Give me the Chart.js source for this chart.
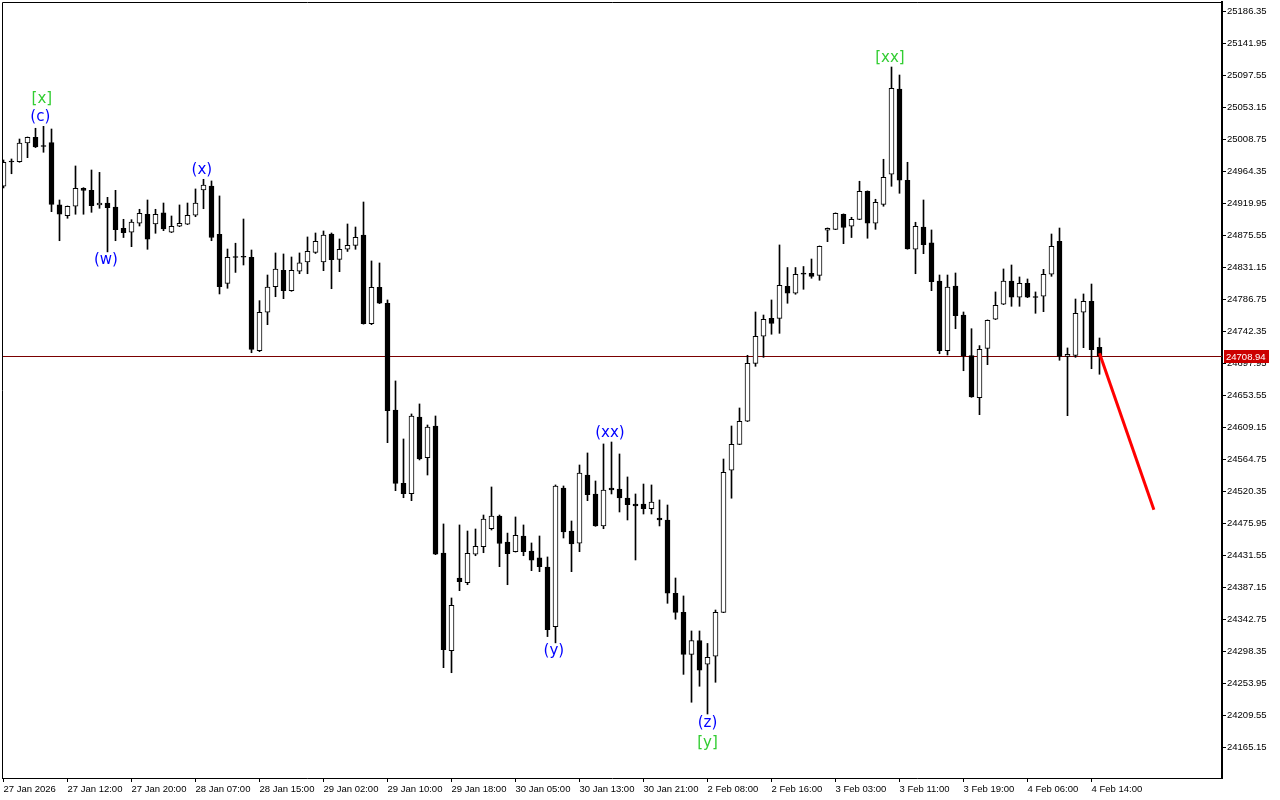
<!DOCTYPE html>
<html>
<head>
<meta charset="utf-8">
<title>Candles</title>
<script src="https://cdn.jsdelivr.net/npm/chart.js@4.4.1/dist/chart.umd.min.js"></script>
<style>
  html, body { margin: 0; padding: 0; background: #fff; }
  #wrap { width: 1280px; height: 800px; position: relative; }
</style>
</head>
<body>
<div id="wrap"><canvas id="chart"></canvas></div>
<script>
// hourly bars, 27 Jan 2026 00:00 .. 4 Feb 15:00
const opens = [
  24943.8, 24978.5, 24977.9, 25003.9, 25011.8, 24999.7, 25004.3, 24917.9, 24903.0, 24916.1,
  24941.0, 24938.2, 24917.9, 24920.6, 24915.1, 24885.5, 24880.0, 24892.5, 24905.0, 24891.5,
  24906.8, 24880.0, 24888.3, 24891.1, 24903.6, 24938.7, 24944.2, 24877.2, 24809.2, 24845.3,
  24845.3, 24845.3, 24715.7, 24769.0, 24804.5, 24827.3, 24799.0, 24825.9, 24839.0, 24852.0,
  24839.0, 24877.6, 24842.5, 24856.4, 24861.9, 24876.2, 24753.2, 24803.7, 24781.5, 24633.4,
  24531.7, 24517.3, 24623.7, 24567.2, 24611.2, 24435.0, 24299.5, 24400.3, 24393.8, 24433.2,
  24443.7, 24468.7, 24486.3, 24450.1, 24436.8, 24458.6, 24437.8, 24428.3, 24415.6, 24332.8,
  24525.2, 24465.5, 24448.8, 24543.2, 24516.9, 24472.5, 24525.2, 24523.8, 24511.3, 24503.0,
  24503.0, 24496.5, 24483.6, 24480.8, 24379.1, 24352.7, 24294.3, 24313.6, 24280.6, 24291.7,
  24352.7, 24549.8, 24585.8, 24617.8, 24698.2, 24735.7, 24760.6, 24760.6, 24805.1, 24795.4,
  24823.5, 24823.1, 24820.3, 24882.8, 24884.1, 24905.0, 24888.3, 24898.0, 24936.9, 24892.5,
  24918.8, 24960.5, 25078.8, 24952.2, 24856.4, 24887.3, 24865.2, 24812.4, 24715.7, 24805.5,
  24765.2, 24708.8, 24650.5, 24719.0, 24759.3, 24780.1, 24812.4, 24789.8, 24809.2, 24790.2,
  24791.2, 24821.7, 24867.5, 24707.9, 24709.3, 24769.0, 24784.3, 24720.4
];
const highs = [
  24980.3, 24981.7, 25009.4, 25012.2, 25024.3, 25027.0, 25023.3, 24924.8, 24916.5, 24972.0,
  24941.9, 24966.4, 24963.1, 24928.5, 24938.2, 24898.0, 24897.5, 24911.9, 24924.8, 24911.9,
  24920.6, 24902.6, 24917.9, 24920.6, 24940.1, 24953.5, 24951.2, 24930.4, 24856.8, 24864.8,
  24898.4, 24855.4, 24785.1, 24820.7, 24851.3, 24849.9, 24845.7, 24851.3, 24873.5, 24879.0,
  24881.8, 24879.0, 24870.7, 24891.5, 24887.3, 24922.0, 24840.2, 24837.4, 24786.1, 24673.7,
  24593.2, 24627.9, 24641.8, 24612.6, 24625.1, 24475.3, 24372.6, 24473.9, 24465.5, 24468.3,
  24487.7, 24526.6, 24487.7, 24462.6, 24485.0, 24473.9, 24448.9, 24458.6, 24429.5, 24529.4,
  24528.0, 24479.4, 24557.1, 24573.8, 24534.9, 24586.3, 24589.0, 24572.4, 24540.5, 24516.9,
  24530.7, 24529.4, 24508.6, 24501.6, 24400.3, 24375.4, 24326.8, 24326.8, 24309.5, 24355.9,
  24565.4, 24611.2, 24636.2, 24709.3, 24769.4, 24765.2, 24786.1, 24862.4, 24831.1, 24831.1,
  24832.5, 24842.9, 24861.0, 24886.0, 24906.9, 24905.5, 24900.8, 24950.8, 24937.4, 24925.8,
  24981.3, 25109.3, 25098.2, 24977.1, 24893.9, 24924.8, 24883.2, 24820.7, 24820.7, 24823.5,
  24769.4, 24746.2, 24722.7, 24758.4, 24797.2, 24829.1, 24834.6, 24818.0, 24815.2, 24797.2,
  24828.6, 24877.6, 24885.9, 24719.5, 24787.4, 24794.4, 24808.2, 24733.3
];
const lows = [
  24941.5, 24961.2, 24977.1, 24983.5, 24997.5, 24991.0, 24908.6, 24868.3, 24899.4, 24905.0,
  24905.0, 24907.7, 24913.3, 24852.8, 24868.3, 24872.7, 24860.0, 24888.7, 24856.4, 24878.6,
  24882.2, 24879.5, 24887.8, 24890.6, 24901.6, 24912.7, 24868.3, 24794.4, 24802.3, 24824.3,
  24834.6, 24712.9, 24714.4, 24751.8, 24790.6, 24787.9, 24798.1, 24822.5, 24822.5, 24850.6,
  24826.7, 24801.7, 24825.3, 24853.4, 24856.4, 24752.5, 24751.8, 24781.0, 24588.1, 24521.5,
  24511.7, 24507.6, 24564.1, 24543.2, 24432.7, 24275.9, 24268.9, 24382.7, 24391.0, 24431.2,
  24435.4, 24466.9, 24416.0, 24391.0, 24436.3, 24431.2, 24410.5, 24409.1, 24319.0, 24310.3,
  24455.8, 24409.1, 24436.8, 24507.6, 24472.0, 24468.7, 24516.9, 24491.9, 24480.8, 24425.3,
  24489.1, 24489.1, 24472.5, 24365.2, 24343.1, 24266.6, 24227.9, 24250.1, 24211.6, 24255.6,
  24352.2, 24511.0, 24585.3, 24617.3, 24694.0, 24706.5, 24738.5, 24739.8, 24781.5, 24794.0,
  24800.9, 24816.2, 24813.4, 24867.0, 24883.6, 24864.2, 24872.7, 24897.5, 24871.7, 24884.1,
  24916.1, 24943.8, 24934.1, 24856.5, 24822.5, 24850.3, 24799.0, 24711.5, 24709.7, 24746.2,
  24687.9, 24651.0, 24626.9, 24696.3, 24758.8, 24779.6, 24777.3, 24777.3, 24789.3, 24767.6,
  24769.8, 24818.9, 24702.4, 24625.5, 24706.5, 24719.9, 24690.7, 24683.0
];
const closes = [
  24977.1, 24977.5, 25003.9, 25011.8, 24998.3, 24999.0, 24918.8, 24905.0, 24916.1, 24941.0,
  24938.2, 24916.9, 24920.6, 24914.1, 24883.6, 24879.4, 24894.3, 24906.4, 24870.3, 24905.0,
  24884.6, 24888.3, 24892.5, 24903.6, 24920.6, 24945.6, 24872.7, 24804.5, 24845.3, 24845.0,
  24845.6, 24717.6, 24769.0, 24804.1, 24828.9, 24799.0, 24827.3, 24837.7, 24853.4, 24867.5,
  24876.2, 24842.0, 24856.4, 24861.9, 24873.1, 24753.2, 24803.7, 24781.5, 24632.5, 24531.7,
  24517.3, 24625.1, 24565.4, 24609.8, 24433.2, 24300.8, 24362.4, 24395.2, 24434.6, 24444.3,
  24482.2, 24486.3, 24448.2, 24434.0, 24459.6, 24436.8, 24425.0, 24416.0, 24328.7, 24528.0,
  24464.1, 24447.5, 24546.0, 24515.9, 24472.5, 24522.4, 24522.4, 24511.3, 24502.0, 24500.2,
  24496.5, 24505.8, 24480.8, 24379.1, 24352.7, 24294.3, 24313.6, 24272.3, 24290.3, 24352.7,
  24547.0, 24585.8, 24617.8, 24698.2, 24735.7, 24759.3, 24753.7, 24806.4, 24795.4, 24821.7,
  24821.7, 24818.9, 24860.6, 24885.5, 24906.4, 24886.9, 24898.0, 24936.9, 24892.5, 24921.6,
  24956.3, 25079.8, 24952.2, 24857.0, 24888.3, 24862.8, 24811.4, 24715.7, 24804.1, 24764.2,
  24708.8, 24651.5, 24717.6, 24757.9, 24778.7, 24812.4, 24789.8, 24809.2, 24789.8, 24789.5,
  24821.7, 24860.6, 24707.9, 24710.7, 24767.6, 24784.3, 24717.1, 24708.94
];

// one time label every 8 bars
const tickLabels = [
  '27 Jan 2026', '27 Jan 12:00', '27 Jan 20:00', '28 Jan 07:00', '28 Jan 15:00', '29 Jan 02:00',
  '29 Jan 10:00', '29 Jan 18:00', '30 Jan 05:00', '30 Jan 13:00', '30 Jan 21:00', '2 Feb 08:00',
  '2 Feb 16:00', '3 Feb 03:00', '3 Feb 11:00', '3 Feb 19:00', '4 Feb 06:00', '4 Feb 14:00'
];
const priceTicks = [
  25186.35, 25141.95, 25097.55, 25053.15, 25008.75, 24964.35, 24919.95, 24875.55,
  24831.15, 24786.75, 24742.35, 24697.95, 24653.55, 24609.15, 24564.75, 24520.35,
  24475.95, 24431.55, 24387.15, 24342.75, 24298.35, 24253.95, 24209.55, 24165.15
];
const lastPrice = 24708.94;

// wave marks: text, bar, price
const waveTexts  = ['[x]', '(c)', '(w)', '(x)', '(xx)', '(y)', '(z)', '[y]', '[xx]'];
const waveBars   = [4.8, 4.6, 12.8, 24.8, 75.8, 68.8, 88, 88, 110.8];
const wavePrices = [25064.9, 25040.0, 24841.6, 24966.4, 24601.5, 24299.0, 24199.1, 24171.4, 25121.8];

// projected move
const forecastBars = [137, 143.8];
const forecastPrices = [24712, 24495];

const bodyData = opens.map((o, i) => ({ x: i, y: [Math.min(o, closes[i]), Math.max(o, closes[i])] }));
const wickData = opens.map((o, i) => ({ x: i, y: [lows[i], highs[i]] }));
const bodyFill = opens.map((o, i) => (closes[i] - o > 1.5 ? '#ffffff' : '#000000'));

const tickFont = { family: '"Liberation Sans", Arial, sans-serif', size: 9.5 };

const extras = {
  id: 'extras',
  beforeDatasetsDraw(chart) {
    const { ctx, chartArea: a, scales: { y } } = chart;
    const py = Math.round(y.getPixelForValue(lastPrice)) + 0.5;
    ctx.save();
    ctx.strokeStyle = '#7a0000';
    ctx.lineWidth = 1;
    ctx.beginPath();
    ctx.moveTo(a.left, py);
    ctx.lineTo(a.right, py);
    ctx.stroke();
    ctx.restore();
  },
  afterDraw(chart) {
    const { ctx, chartArea: a, scales: { x, y } } = chart;
    ctx.save();
    // frame
    ctx.strokeStyle = '#000';
    ctx.lineWidth = 1;
    ctx.beginPath();
    ctx.moveTo(a.left + 0.5, a.bottom);
    ctx.lineTo(a.left + 0.5, a.top + 0.5);
    ctx.lineTo(a.right, a.top + 0.5);
    ctx.stroke();

    // wave labels
    ctx.font = '15px "DejaVu Sans", sans-serif';
    ctx.textAlign = 'center';
    ctx.textBaseline = 'middle';
    waveTexts.forEach((t, k) => {
      ctx.fillStyle = t[0] === '[' ? '#32cd32' : '#0000ff';
      ctx.fillText(t, x.getPixelForValue(waveBars[k]), y.getPixelForValue(wavePrices[k]));
    });

    // last price box
    const py = Math.round(y.getPixelForValue(lastPrice));
    ctx.fillStyle = '#cc0000';
    ctx.fillRect(a.right + 2, py - 6, 45, 13);
    ctx.fillStyle = '#fff';
    ctx.font = '9.5px "Liberation Sans", Arial, sans-serif';
    ctx.textAlign = 'left';
    ctx.fillText(lastPrice.toFixed(2), a.right + 4, py + 1);
    ctx.restore();
  }
};

new Chart(document.getElementById('chart'), {
  type: 'bar',
  data: {
    datasets: [
      {
        type: 'line',
        data: forecastBars.map((b, k) => ({ x: b, y: forecastPrices[k] })),
        borderColor: '#ff0000',
        borderWidth: 3,
        pointRadius: 0,
        order: 0
      },
      {
        data: bodyData,
        backgroundColor: bodyFill,
        borderColor: '#000',
        borderWidth: 1,
        borderSkipped: false,
        barThickness: 5,
        minBarLength: 1,
        grouped: false,
        order: 1
      },
      {
        data: wickData,
        backgroundColor: '#000',
        barThickness: 1,
        grouped: false,
        order: 2
      }
    ]
  },
  options: {
    responsive: true,
    maintainAspectRatio: false,
    animation: false,
    layout: { padding: { left: 2, top: 2, right: 0, bottom: 0 } },
    plugins: { legend: { display: false }, tooltip: { enabled: false } },
    scales: {
      x: {
        type: 'linear',
        offset: false,
        min: -0.1875,
        max: 152.3125,
        grid: { offset: false, drawOnChartArea: false, tickLength: 4, color: '#000' },
        border: { display: true, color: '#000', width: 1 },
        ticks: {
          autoSkip: false,
          maxRotation: 0,
          align: 'start',
          padding: 2,
          color: '#000',
          font: tickFont,
          callback: (v, i) => tickLabels[i]
        },
        afterBuildTicks: s => { s.ticks = tickLabels.map((t, k) => ({ value: k * 8 })); },
        afterFit: s => { s.height = 22; s.paddingLeft = 0; s.paddingRight = 0; }
      },
      y: {
        position: 'right',
        min: 24122.8,
        max: 25199.5,
        grid: { drawOnChartArea: false, tickLength: 4, color: '#000' },
        border: { display: true, color: '#000', width: 2 },
        ticks: {
          padding: 1,
          color: '#000',
          font: tickFont,
          callback: v => v.toFixed(2)
        },
        afterBuildTicks: s => { s.ticks = priceTicks.map(v => ({ value: v })); },
        afterFit: s => { s.width = 58; s.paddingTop = 0; s.paddingBottom = 0; }
      }
    }
  },
  plugins: [extras]
});
</script>
</body>
</html>
